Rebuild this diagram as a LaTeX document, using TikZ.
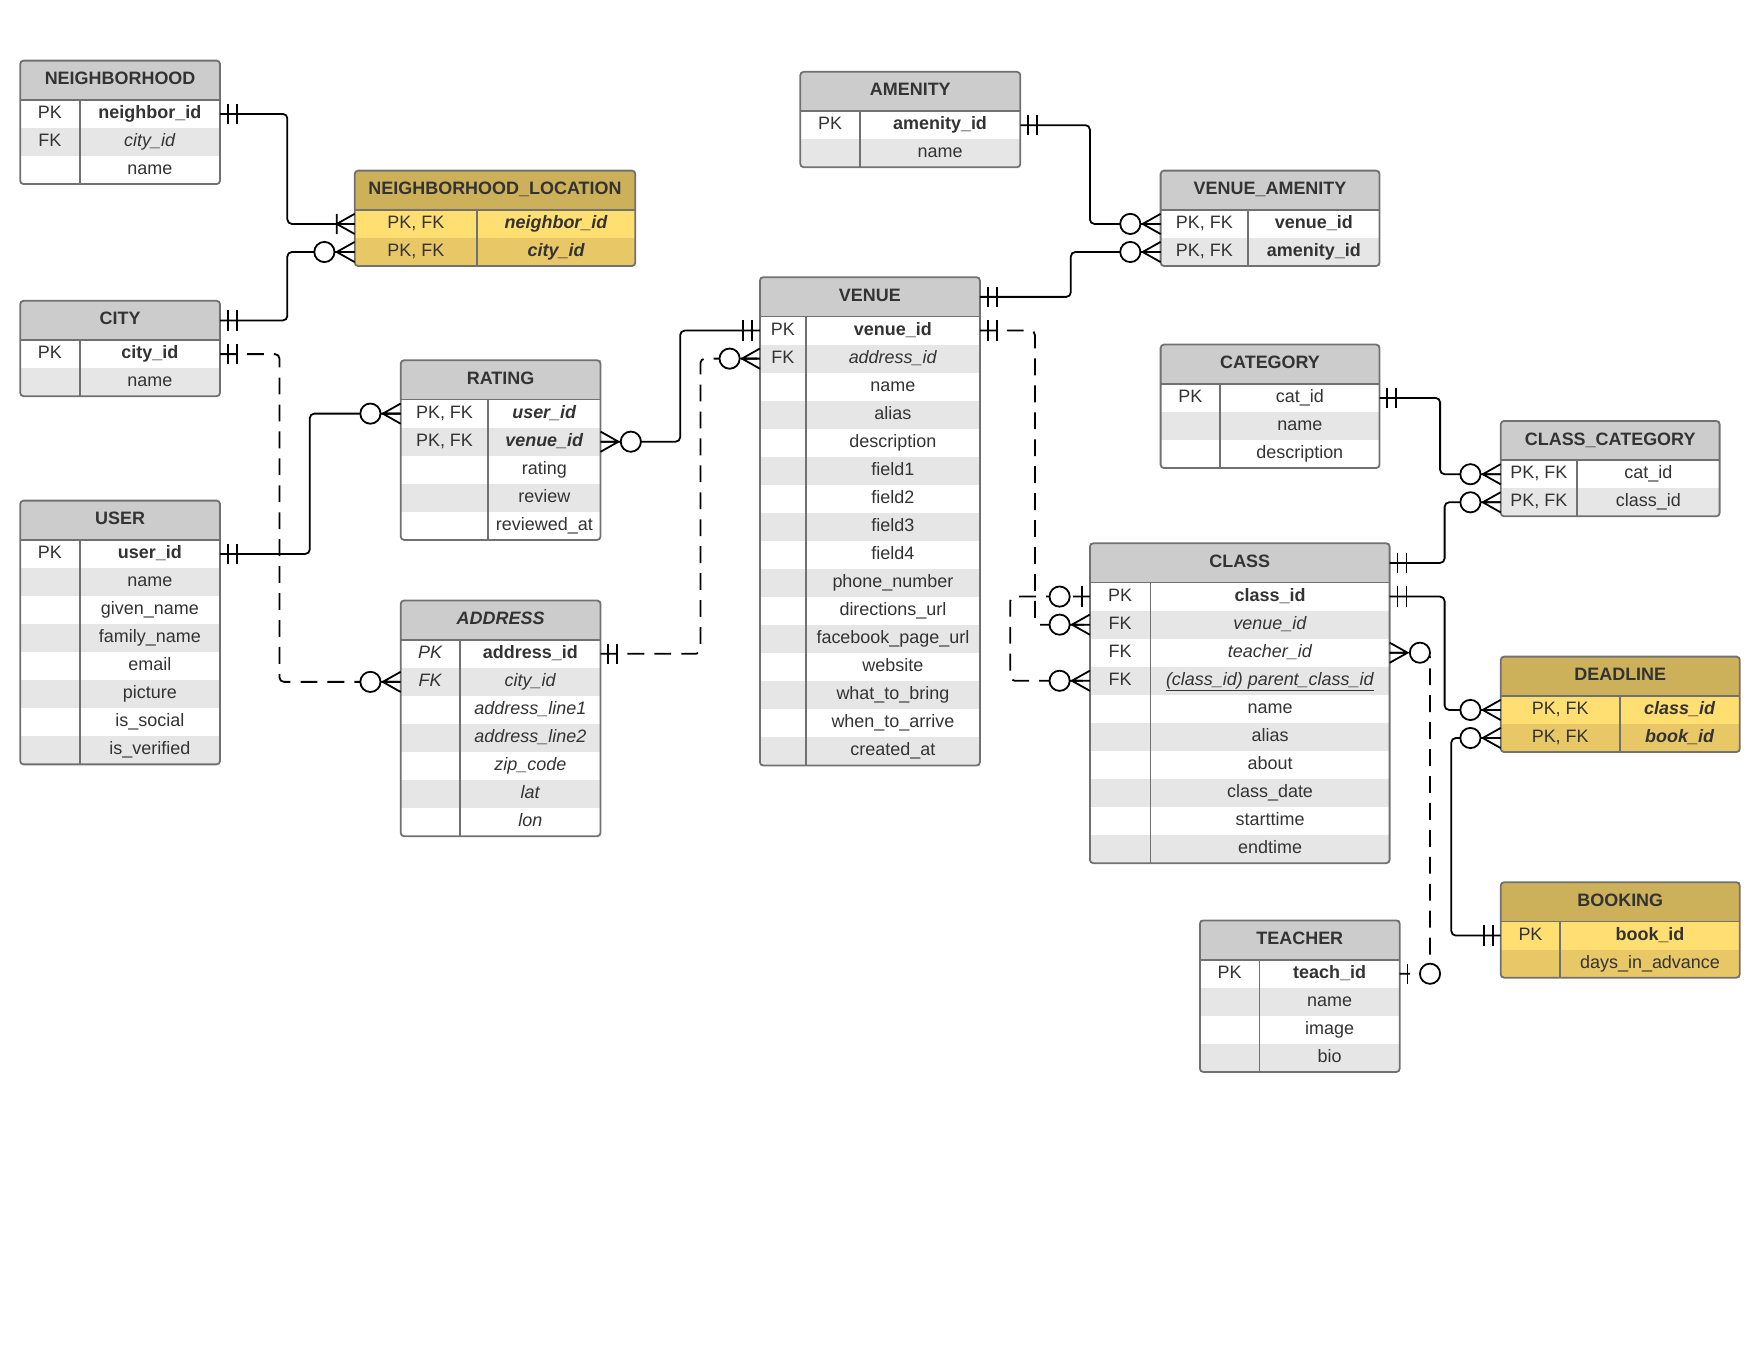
\documentclass[tikz,border=0pt]{standalone}
\usepackage{fontspec}
\setmainfont{Liberation Sans}
\usepackage{tikz}

\definecolor{hdrgray}{HTML}{CCCCCC}
\definecolor{rowgray}{HTML}{E6E6E6}
\definecolor{bordergray}{HTML}{717171}
\definecolor{txtgray}{HTML}{333333}
\definecolor{goldhead}{HTML}{CCB05A}
\definecolor{yelA}{HTML}{FFDF71}
\definecolor{yelB}{HTML}{E8C767}

\tikzset{
  cell/.style={inner sep=0pt, outer sep=0pt, minimum height=25,
    text height=11.5pt, text depth=3.5pt, text=txtgray,
    font=\fontsize{16}{19}\selectfont},
  erhead/.style={cell, minimum height=35, font=\bfseries\fontsize{16}{19}\selectfont},
  ghead/.style={fill=hdrgray}, yhead/.style={fill=goldhead},
  grow1/.style={fill=white}, grow0/.style={fill=rowgray},
  yrow1/.style={fill=yelA}, yrow0/.style={fill=yelB},
  erline/.style={draw=bordergray, line width=1.6pt},
  erborder/.style={erline, rounded corners=3pt},
  rel/.style={draw=black, line width=1.6pt, rounded corners=4pt},
  reld/.style={rel, dash pattern=on 15pt off 9pt},
  ermk/.style={draw=black, line width=1.6pt, solid},
  onlyone/.pic={\draw (7,-9) -- (7,9) (15,-9) -- (15,9);},
  onemany/.pic={\draw (0,-9) -- (16,0) -- (0,9) (0,0) -- (16,0) (16,-9) -- (16,9);},
  zeromany/.pic={\draw (0,-9) -- (16,0) -- (0,9) (0,0) -- (16,0);
    \draw[fill=white] (27,0) circle (9);},
  zeroone/.pic={\draw (7,-9) -- (7,9); \draw[fill=white] (27,0) circle (9);},
}

% #1 name, #2 left, #3 top, #4 width, #5 key width, #6 colour set (g/y), #7 title, #8 rows
\newcommand\ertable[8]{%
  \node[erhead, #6head, minimum width=#4, anchor=north west] (#1) at (#2,#3) {#7};
  \foreach \ky/\fd [count=\i, evaluate=\i as \rr using {int(mod(\i,2))}] in {#8} {
    \node[cell, #6row\rr, minimum width=#5, anchor=north west] (#1-k\i) at (#2,{#3+10+25*\i}) {\ky};
    \node[cell, #6row\rr, minimum width=#4-#5, anchor=west] (#1-\i) at (#1-k\i.east) {\fd};
    \xdef\ernrows{\i}
  }
  \draw[erline] (#1.south west) -- (#1.south east);
  \draw[erline] (#1-k1.north east) -- (#1-k\ernrows.south east);
  \draw[erborder] (#1.north west) rectangle (#1-\ernrows.south east);
}

\begin{document}
\begin{tikzpicture}[x=1pt,y=-1pt]
\useasboundingbox (0,0) rectangle (1568,1212);

% left column
\ertable{nbh}{18}{54}{178}{53}{g}{NEIGHBORHOOD}{PK/\textbf{neighbor\_id}, FK/\textit{city\_id}, /name}
\ertable{city}{18}{268}{178}{53}{g}{CITY}{PK/\textbf{city\_id}, /name}
\ertable{user}{18}{446}{178}{53}{g}{USER}{PK/\textbf{user\_id}, /name, /given\_name, /family\_name, /email, /picture, /is\_social, /is\_verified}

% middle
\ertable{nbl}{316}{152}{250}{109}{y}{NEIGHBORHOOD\_LOCATION}{{PK, FK}/\textbf{\textit{neighbor\_id}}, {PK, FK}/\textbf{\textit{city\_id}}}
\ertable{rating}{357}{321}{178}{78}{g}{RATING}{{PK, FK}/\textbf{\textit{user\_id}}, {PK, FK}/\textbf{\textit{venue\_id}}, /rating, /review, /reviewed\_at}
\ertable{address}{357}{535}{178}{53}{g}{\textit{ADDRESS}}{\textit{PK}/\textbf{address\_id}, \textit{FK}/\textit{city\_id}, /\textit{address\_line1}, /\textit{address\_line2}, /\textit{zip\_code}, /\textit{lat}, /\textit{lon}}
\ertable{amenity}{713}{64}{196}{53}{g}{AMENITY}{PK/\textbf{amenity\_id}, /name}
\ertable{venue}{677}{247}{196}{41}{g}{VENUE}{PK/\textbf{venue\_id}, FK/\textit{address\_id}, /name, /alias, /description, /field1, /field2, /field3, /field4, /phone\_number, /directions\_url, /facebook\_page\_url, /website, /what\_to\_bring, /when\_to\_arrive, /created\_at}

% right
\ertable{venam}{1034}{152}{195}{78}{g}{VENUE\_AMENITY}{{PK, FK}/\textbf{venue\_id}, {PK, FK}/\textbf{amenity\_id}}
\ertable{category}{1034}{307}{195}{53}{g}{CATEGORY}{PK/cat\_id, /name, /description}
\ertable{clcat}{1337}{375}{195}{68}{g}{CLASS\_CATEGORY}{{PK, FK}/cat\_id, {PK, FK}/class\_id}
\ertable{class}{971}{484}{267}{54}{g}{CLASS}{PK/\textbf{class\_id}, FK/\textit{venue\_id}, FK/\textit{teacher\_id}, FK/{\underline{\textit{(class\_id) parent\_class\_id}}}, /name, /alias, /about, /class\_date, /starttime, /endtime}
\ertable{deadline}{1337}{585}{213}{106}{y}{DEADLINE}{{PK, FK}/\textbf{\textit{class\_id}}, {PK, FK}/\textbf{\textit{book\_id}}}
\ertable{booking}{1337}{786}{213}{53}{y}{BOOKING}{PK/\textbf{book\_id}, /days\_in\_advance}
\ertable{teacher}{1069}{820}{178}{53}{g}{TEACHER}{PK/\textbf{teach\_id}, /name, /image, /bio}

% relations
\draw[rel] (nbh-1.east) -- ++(60,0) |- (nbl-k1.west);
\draw[rel] (city.east) -- ++(60,0) |- (nbl-k2.west);
\draw[reld] (city-1.east) -- ++(53,0) |- (address-k2.west);
\draw[rel] (user-1.east) -- ++(80,0) |- (rating-k1.west);
\draw[rel] (rating-2.east) -- ++(71,0) |- (venue-k1.west);
\draw[reld] (address-1.east) -- ++(89,0) |- (venue-k2.west);
\draw[rel] (amenity-1.east) -- ++(62,0) |- (venam-k1.west);
\draw[rel] (venue.east) -- ++(81,0) |- (venam-k2.west);
\draw[reld] (venue-1.east) -- ++(49,0) |- (class-k2.west);
\draw[reld] (class-k1.west) -- ++(-71,0) |- (class-k4.west);
\draw[rel] (category-1.east) -- ++(54,0) |- (clcat-k1.west);
\draw[rel] (class.east) -- ++(49,0) |- (clcat-k2.west);
\draw[rel] (class-1.east) -- ++(49,0) |- (deadline-k1.west);
\draw[rel] (booking-k1.west) -- ++(-44,0) |- (deadline-k2.west);
\draw[reld] (class-3.east) -- ++(36,0) |- (teacher-1.east);

% cardinality marks
\pic[ermk] at (nbh-1.east) {onlyone};
\pic[ermk, rotate=180] at (nbl-k1.west) {onemany};
\pic[ermk] at (city.east) {onlyone};
\pic[ermk, rotate=180] at (nbl-k2.west) {zeromany};
\pic[ermk] at (city-1.east) {onlyone};
\pic[ermk, rotate=180] at (address-k2.west) {zeromany};
\pic[ermk] at (user-1.east) {onlyone};
\pic[ermk, rotate=180] at (rating-k1.west) {zeromany};
\pic[ermk] at (rating-2.east) {zeromany};
\pic[ermk, rotate=180] at (venue-k1.west) {onlyone};
\pic[ermk] at (address-1.east) {onlyone};
\pic[ermk, rotate=180] at (venue-k2.west) {zeromany};
\pic[ermk] at (amenity-1.east) {onlyone};
\pic[ermk, rotate=180] at (venam-k1.west) {zeromany};
\pic[ermk] at (venue.east) {onlyone};
\pic[ermk, rotate=180] at (venam-k2.west) {zeromany};
\pic[ermk] at (venue-1.east) {onlyone};
\pic[ermk, rotate=180] at (class-k2.west) {zeromany};
\pic[ermk, rotate=180] at (class-k1.west) {zeroone};
\pic[ermk, rotate=180] at (class-k4.west) {zeromany};
\pic[ermk] at (category-1.east) {onlyone};
\pic[ermk, rotate=180] at (clcat-k1.west) {zeromany};
\pic[ermk] at (class.east) {onlyone};
\pic[ermk, rotate=180] at (clcat-k2.west) {zeromany};
\pic[ermk] at (class-1.east) {onlyone};
\pic[ermk, rotate=180] at (deadline-k1.west) {zeromany};
\pic[ermk, rotate=180] at (booking-k1.west) {onlyone};
\pic[ermk, rotate=180] at (deadline-k2.west) {zeromany};
\pic[ermk] at (class-3.east) {zeromany};
\pic[ermk] at (teacher-1.east) {zeroone};
\end{tikzpicture}
\end{document}
